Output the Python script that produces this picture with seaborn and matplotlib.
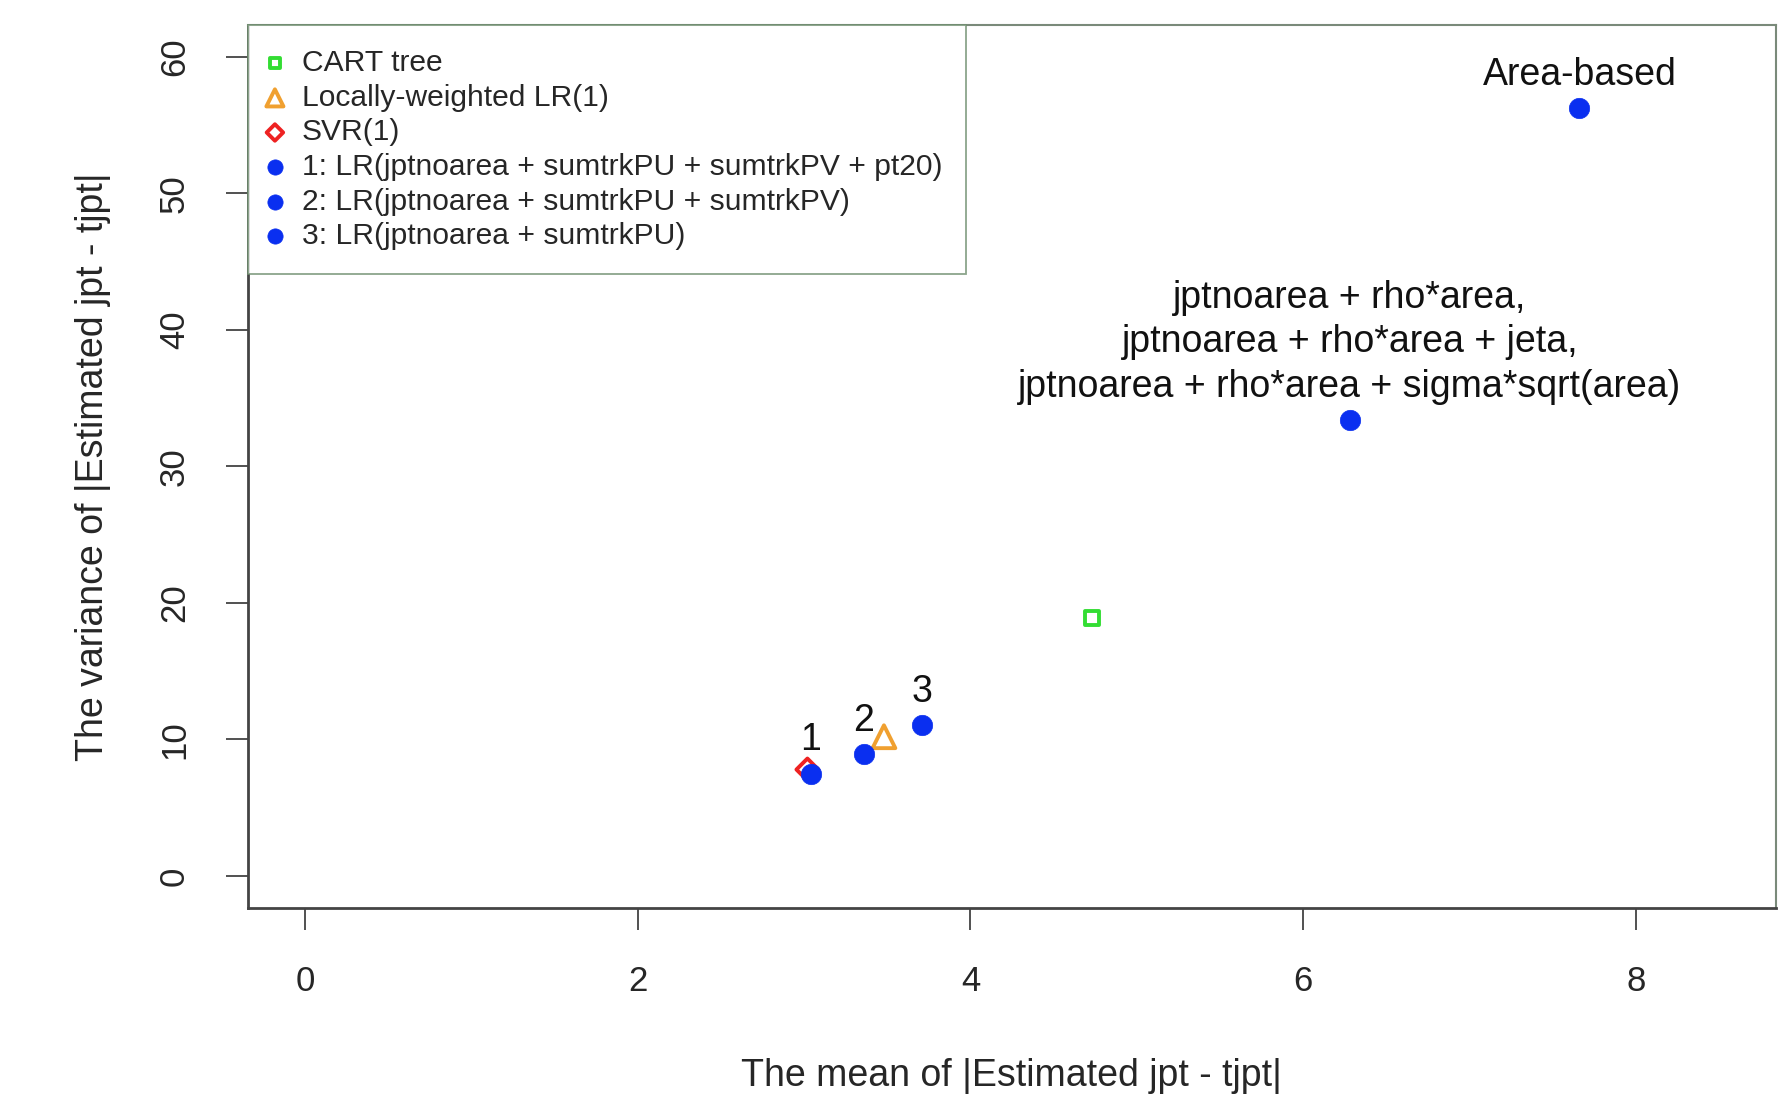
import numpy as np
import matplotlib
matplotlib.use("Agg")
import matplotlib.pyplot as plt
import seaborn as sns

# values
cart_x = [4.73]
cart_y = [18.9]
lwlr_x = [3.48]
lwlr_y = [10.2]
svr_x = [3.02]
svr_y = [7.8]
lr_x = [3.04, 3.36, 3.71]
lr_y = [7.5, 8.95, 11.05]
lr_labels = ["1: LR(jptnoarea + sumtrkPU + sumtrkPV + pt20)",
             "2: LR(jptnoarea + sumtrkPU + sumtrkPV)",
             "3: LR(jptnoarea + sumtrkPU)"]
lr_tags = ["1", "2", "3"]
area_x = [6.28, 7.66]
area_y = [33.4, 56.2]
area_text = ["jptnoarea + rho*area,\njptnoarea + rho*area + jeta,\njptnoarea + rho*area + sigma*sqrt(area)",
             "Area-based"]

sns.set_theme(style="white")
plt.rcParams['font.family'] = ['Liberation Sans', 'DejaVu Sans']

fig = plt.figure(figsize=(17.9, 10.94), dpi=100)
ax = fig.add_axes([0.1385, 0.170, 0.8535, 0.807])

ms = 215
sns.scatterplot(x=cart_x, y=cart_y, marker='s', s=95, facecolors='none',
                edgecolor='#33dd33', linewidth=2.8, label='CART tree', ax=ax)
sns.scatterplot(x=lwlr_x, y=lwlr_y, marker='^', s=270, facecolors='none',
                edgecolor='#f0a030', linewidth=2.8, label='Locally-weighted LR(1)', ax=ax)
sns.scatterplot(x=svr_x, y=svr_y, marker='D', s=125, facecolors='none',
                edgecolor='#ee2222', linewidth=2.8, label='SVR(1)', ax=ax)
for xi, yi, lab in zip(lr_x, lr_y, lr_labels):
    sns.scatterplot(x=[xi], y=[yi], marker='o', s=ms, color='#0a2ff0',
                    edgecolor='#0a2ff0', linewidth=0.5, label=lab, ax=ax)
sns.scatterplot(x=area_x, y=area_y, marker='o', s=ms, color='#0a2ff0',
                edgecolor='#0a2ff0', linewidth=0.5, ax=ax)

for xi, yi, t in zip(lr_x, lr_y, lr_tags):
    ax.annotate(t, (xi, yi), xytext=(0, 11), textcoords='offset points',
                ha='center', va='bottom', fontsize=27, color='#111111')
for xi, yi, t in zip(area_x, area_y, area_text):
    ax.annotate(t, (xi, yi), xytext=(0, 11), textcoords='offset points',
                ha='center', va='bottom', fontsize=27, color='#111111',
                linespacing=1.3, multialignment='center')

ax.set_xlim(-0.343, 8.84)
ax.set_ylim(-2.34, 62.3)
ax.set_xticks([0, 2, 4, 6, 8])
ax.set_yticks([0, 10, 20, 30, 40, 50, 60])
ax.tick_params(axis='both', direction='out', length=16, width=1.2,
               color='#333333', labelsize=25, pad=25, bottom=True, left=True)
for lbl in ax.get_yticklabels():
    lbl.set_rotation(90)
    lbl.set_va('center')

for side in ['top', 'right']:
    ax.spines[side].set_color('#7a8a7a')
    ax.spines[side].set_linewidth(1.5)
for side in ['left', 'bottom']:
    ax.spines[side].set_color('#444444')
    ax.spines[side].set_linewidth(2)

ax.set_xlabel('The mean of |Estimated jpt - tjpt|', fontsize=27, labelpad=43)
ax.set_ylabel('The variance of |Estimated jpt - tjpt|', fontsize=27, labelpad=34)

leg = ax.legend(loc='upper left', bbox_to_anchor=(0, 1), borderaxespad=0,
                fontsize=21.6, frameon=True, fancybox=False, handletextpad=0.8,
                handlelength=0.2, labelspacing=0.22, borderpad=0.8,
                markerscale=0.75)
leg.get_frame().set_edgecolor('#6f8f6f')
leg.get_frame().set_linewidth(1.3)

plt.savefig('out.png', dpi=100)
